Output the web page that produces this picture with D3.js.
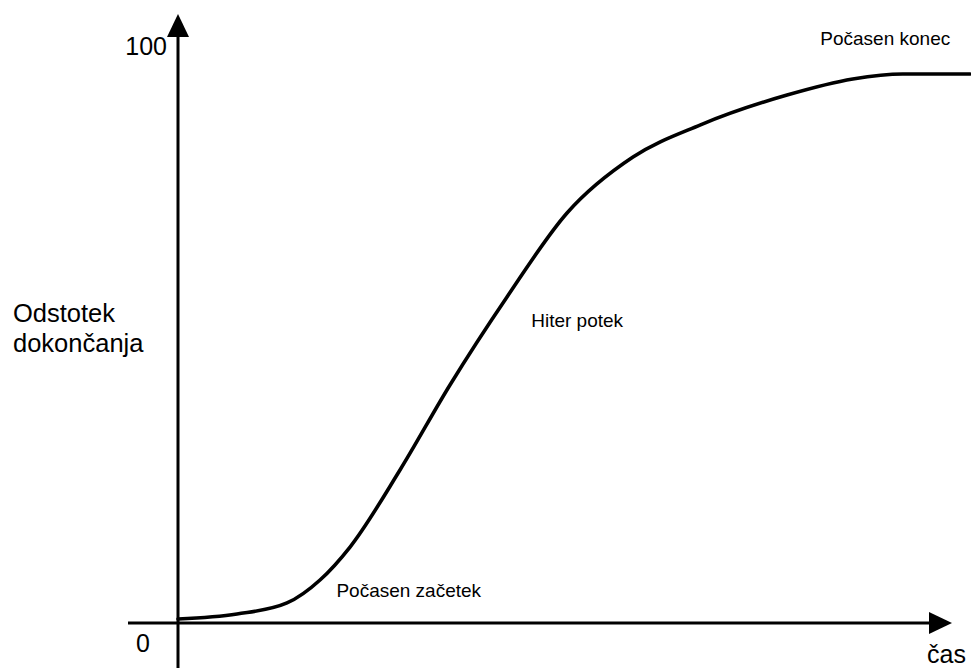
<!DOCTYPE html>
<html>
<head>
<meta charset="utf-8">
<script src="https://cdn.jsdelivr.net/npm/d3@7"></script>
<style>
  html, body { margin: 0; padding: 0; background: #fff; }
  svg { display: block; font-family: "Liberation Sans", Arial, sans-serif; }
</style>
</head>
<body>
<svg id="chart" width="971" height="668"></svg>
<script>
// Data (time in % of span, completion in %)
const timeValues = [0, 7.45, 13.76, 17.93, 21.72, 28.03, 34.34, 41.54, 49.12, 57.45, 65.9, 76.9, 85.2, 91.5, 100];
const completionValues = [0.69, 1.56, 3.47, 7.45, 13.17, 26.52, 41.25, 56.5, 71.06, 80.76, 86.3, 91.5, 94.28, 95.15, 95.15];
const yTickLabels = ["0", "100"];
const yTickValues = [0, 100];
const yTitle = ["Odstotek", "dokončanja"];
const xTitle = "čas";
const annotations = [
  { text: "Počasen začetek", t: 20.0, p: 4.5 },
  { text: "Hiter potek", t: 44.6, p: 51.3 },
  { text: "Počasen konec", t: 81.1, p: 100.2 }
];

const svg = d3.select("#chart");
const x = d3.scaleLinear().domain([0, 100]).range([178, 970]);
const y = d3.scaleLinear().domain([0, 100]).range([623, 46]);

// Axes
svg.append("line").attr("x1", 128).attr("x2", 931).attr("y1", y(0)).attr("y2", y(0))
  .attr("stroke", "#000").attr("stroke-width", 3);
svg.append("path").attr("d", `M952,${y(0)} L929,${y(0) - 11} L929,${y(0) + 11} Z`).attr("fill", "#000");

svg.append("line").attr("x1", x(0)).attr("x2", x(0)).attr("y1", 668).attr("y2", 35)
  .attr("stroke", "#000").attr("stroke-width", 3);
svg.append("path").attr("d", `M${x(0)},14 L${x(0) - 11},37 L${x(0) + 11},37 Z`).attr("fill", "#000");

// Curve
const pts = timeValues.map((t, i) => [t, completionValues[i]]);
const line = d3.line().x(d => x(d[0])).y(d => y(d[1])).curve(d3.curveMonotoneX);
svg.append("path").datum(pts).attr("d", line)
  .attr("fill", "none").attr("stroke", "#000").attr("stroke-width", 3.6)
  .attr("stroke-linejoin", "round").attr("stroke-linecap", "round");

// Tick labels
svg.append("text").attr("x", 167).attr("y", y(yTickValues[1]) + 9).attr("text-anchor", "end")
  .attr("font-size", 25).text(yTickLabels[1]);
svg.append("text").attr("x", 136).attr("y", y(yTickValues[0]) + 29).attr("font-size", 25).text(yTickLabels[0]);

// Titles
svg.append("text").attr("x", 927).attr("y", 663).attr("font-size", 25).text(xTitle);
const yt = svg.append("text").attr("font-size", 25.5);
yTitle.forEach((s, i) => yt.append("tspan").attr("x", 13).attr("y", 322 + i * 30).text(s));

// Annotations
svg.selectAll("text.ann").data(annotations).enter().append("text")
  .attr("class", "ann").attr("x", d => x(d.t)).attr("y", d => y(d.p))
  .attr("font-size", 19).text(d => d.text);
</script>
</body>
</html>
